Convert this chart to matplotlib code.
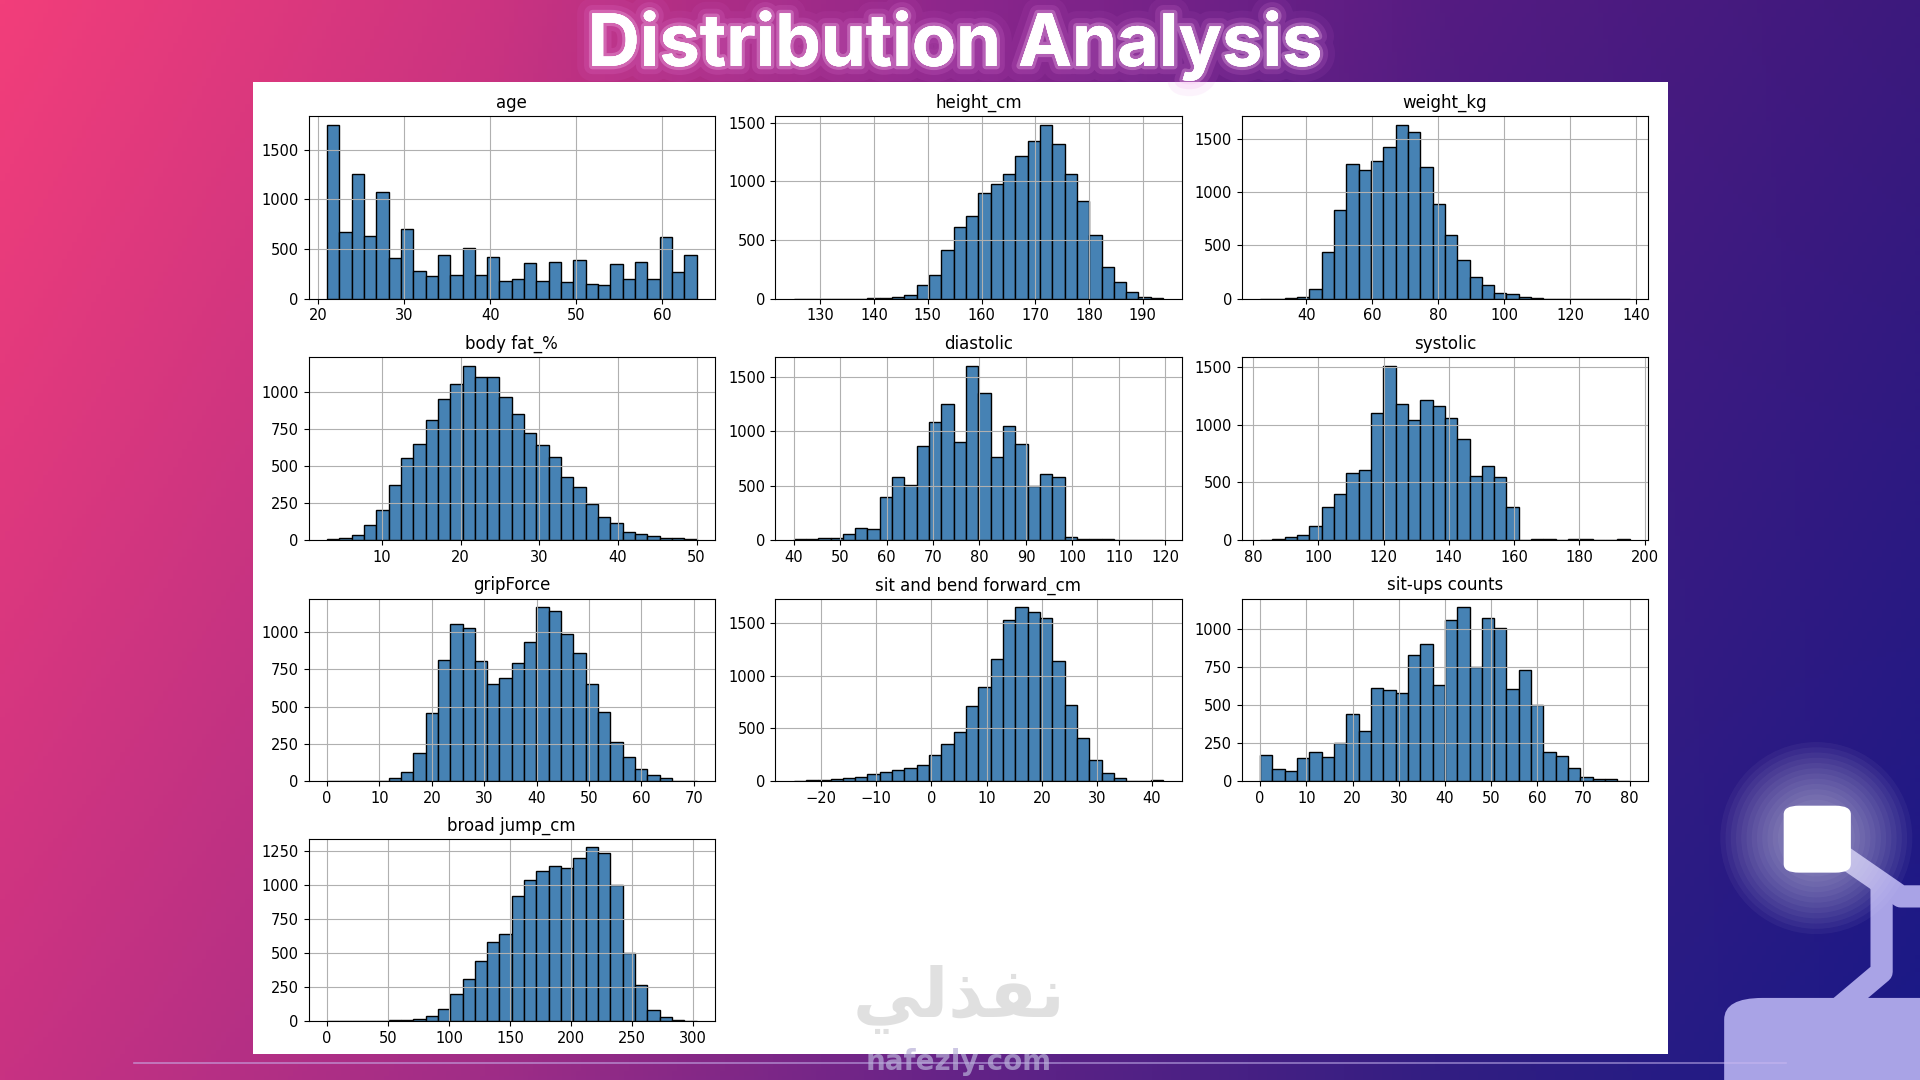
import numpy as np
import matplotlib
matplotlib.use("Agg")
import matplotlib.pyplot as plt
import matplotlib.patheffects as pe
from matplotlib.patches import Rectangle, FancyBboxPatch, Ellipse

# histogram counts (30 bins each), plus data min/max
age_range = (21, 64)
age_counts = [1750, 670, 1260, 630, 1075, 405, 705, 280, 230, 445,
              240, 510, 240, 425, 175, 195, 355, 175, 365, 165,
              385, 145, 135, 345, 200, 365, 195, 620, 270, 445]

height_range = (125.0, 193.8)
height_counts = [1, 0, 0, 0, 0, 0, 8, 2, 15, 35,
                 115, 200, 415, 610, 705, 900, 975, 1065, 1215, 1340,
                 1480, 1320, 1060, 830, 540, 270, 140, 60, 15, 8]

weight_range = (26.0, 138.1)
weight_counts = [1, 2, 8, 20, 95, 440, 835, 1260, 1210, 1290,
                 1425, 1630, 1560, 1235, 885, 595, 360, 205, 130, 55,
                 40, 18, 8, 2, 1, 0, 0, 0, 0, 1]

bodyfat_range = (3.0, 50.0)
bodyfat_counts = [5, 12, 35, 100, 200, 375, 555, 650, 810, 950,
                  1055, 1175, 1105, 1105, 965, 855, 720, 645, 560, 425,
                  355, 245, 155, 115, 55, 40, 25, 12, 12, 5]

diastolic_range = (40.0, 119.5)
diastolic_counts = [5, 5, 15, 15, 55, 110, 100, 395, 580, 510,
                    865, 1085, 1255, 905, 1600, 1350, 760, 1045, 885, 495,
                    610, 580, 25, 8, 8, 8, 3, 3, 2, 2]

systolic_range = (82.2, 195.4)
systolic_counts = [2, 8, 22, 40, 120, 285, 400, 580, 605, 1105,
                   1510, 1185, 1040, 1220, 1160, 1060, 875, 555, 645, 545,
                   285, 0, 5, 5, 0, 5, 5, 3, 0, 5]

grip_range = (0.0, 70.5)
grip_counts = [5, 5, 5, 5, 5, 25, 60, 190, 455, 810,
               1055, 1025, 805, 650, 690, 790, 935, 1165, 1140, 985,
               860, 655, 465, 265, 160, 85, 40, 25, 5, 5]

bend_range = (-25.0, 42.0)
bend_counts = [5, 10, 15, 20, 32, 40, 70, 90, 105, 125,
               150, 250, 355, 470, 715, 890, 1160, 1525, 1645, 1605,
               1545, 1140, 720, 410, 200, 75, 30, 5, 2, 8]

situps_range = (0, 80)
situps_counts = [175, 80, 65, 155, 195, 160, 255, 440, 330, 615,
                 600, 580, 830, 905, 635, 1060, 1145, 750, 1075, 1010,
                 610, 730, 500, 195, 165, 90, 28, 15, 12, 5]

jump_range = (0, 303)
jump_counts = [5, 0, 0, 2, 5, 8, 12, 20, 40, 90,
               200, 310, 440, 580, 640, 920, 1040, 1110, 1140, 1130,
               1200, 1280, 1240, 1000, 500, 270, 80, 30, 8, 5]

columns = ["age", "height_cm", "weight_kg", "body fat_%", "diastolic", "systolic",
           "gripForce", "sit and bend forward_cm", "sit-ups counts", "broad jump_cm"]
ranges = [age_range, height_range, weight_range, bodyfat_range, diastolic_range,
          systolic_range, grip_range, bend_range, situps_range, jump_range]
counts = [age_counts, height_counts, weight_counts, bodyfat_counts, diastolic_counts,
          systolic_counts, grip_counts, bend_counts, situps_counts, jump_counts]

fig = plt.figure(figsize=(19.2, 10.8), dpi=100)

# gradient background
bg = fig.add_axes([0, 0, 1, 1])
xs = np.linspace(0, 1, 400)
stops = [0, 0.25, 0.5, 0.75, 1]
top = np.array([(242, 62, 122), (205, 52, 128), (140, 38, 140), (85, 28, 130), (60, 25, 125)]) / 255
bottom = np.array([(200, 50, 130), (160, 45, 135), (100, 35, 135), (50, 30, 130), (25, 25, 135)]) / 255
top_row = np.stack([np.interp(xs, stops, top[:, i]) for i in range(3)], axis=1)
bot_row = np.stack([np.interp(xs, stops, bottom[:, i]) for i in range(3)], axis=1)
t = np.linspace(0, 1, 250)[:, None, None]
grad = top_row[None] * (1 - t) + bot_row[None] * t
bg.imshow(grad, extent=[0, 1, 0, 1], aspect="auto", origin="upper")
bg.set_xlim(0, 1)
bg.set_ylim(0, 1)
bg.axis("off")

# decorations bottom right
lav = "#a9a3e6"
bg.plot([0.946, 0.99, 1.01], [0.224, 0.17, 0.17], color=lav, lw=16, solid_capstyle="butt", zorder=2)
bg.plot([0.98, 0.98, 0.96], [0.17, 0.10, 0.07], color=lav, lw=16, solid_joinstyle="round", zorder=2)
bg.add_patch(FancyBboxPatch((0.898, -0.05), 0.13, 0.126, boxstyle="round,pad=0,rounding_size=0.02",
                            facecolor=lav, edgecolor="none", zorder=2))
asp = 1920 / 1080
for r in np.linspace(0.05, 0.02, 12):
    bg.add_patch(Ellipse((0.946, 0.224), 2 * r, 2 * r * asp, color="white", alpha=0.045,
                         linewidth=0, zorder=3))
bg.add_patch(FancyBboxPatch((0.929, 0.192), 0.035, 0.062, boxstyle="round,pad=0,rounding_size=0.008",
                            facecolor="white", edgecolor="none", zorder=4))
bg.plot([0.07, 0.93], [0.016, 0.016], color="#c9b8f0", lw=1.2, alpha=0.6)

# white card
fig.add_artist(Rectangle((0.132, 0.024), 0.7366, 0.900, transform=fig.transFigure,
                         facecolor="white", edgecolor="none", zorder=1))

fig.text(0.4975, 0.958, "Distribution Analysis", ha="center", va="center",
         fontsize=52, fontweight="bold", color="white", family="Inter",
         path_effects=[pe.withStroke(linewidth=22, foreground="#e070e0", alpha=0.08),
                       pe.withStroke(linewidth=12, foreground="#f08ae8", alpha=0.14),
                       pe.withStroke(linewidth=5, foreground="#f8c0f0", alpha=0.3),
                       pe.Normal()], zorder=5)

lefts = [0.1607, 0.4037, 0.6467]
bottoms = [0.7234, 0.5, 0.2766, 0.0544]
w, h = 0.2117, 0.169

for i, (name, rng, cnt) in enumerate(zip(columns, ranges, counts)):
    r, c = divmod(i, 3)
    ax = fig.add_axes([lefts[c], bottoms[r], w, h])
    ax.set_zorder(2)
    edges = np.linspace(rng[0], rng[1], len(cnt) + 1)
    ax.hist(edges[:-1], bins=edges, weights=cnt, color="#4682b4", edgecolor="black", linewidth=1)
    ax.grid(True, color="#b0b0b0", linewidth=0.8)
    ax.set_title(name, fontsize=12)
    ax.tick_params(labelsize=10.5)

# watermark
fig.text(0.4994, 0.075, "\ufef2\ufedf\ufeac\ufed4\ufee7", ha="center", va="center", fontsize=50,
         fontweight="bold", color="#9a9a9a", alpha=0.3, family="DejaVu Sans", zorder=6)
fig.text(0.4994, 0.017, "nafezly.com", ha="center", va="center", fontsize=20,
         fontweight="bold", color="#b8b0d8", alpha=0.7, zorder=6)

fig.savefig("out.png", dpi=100)
